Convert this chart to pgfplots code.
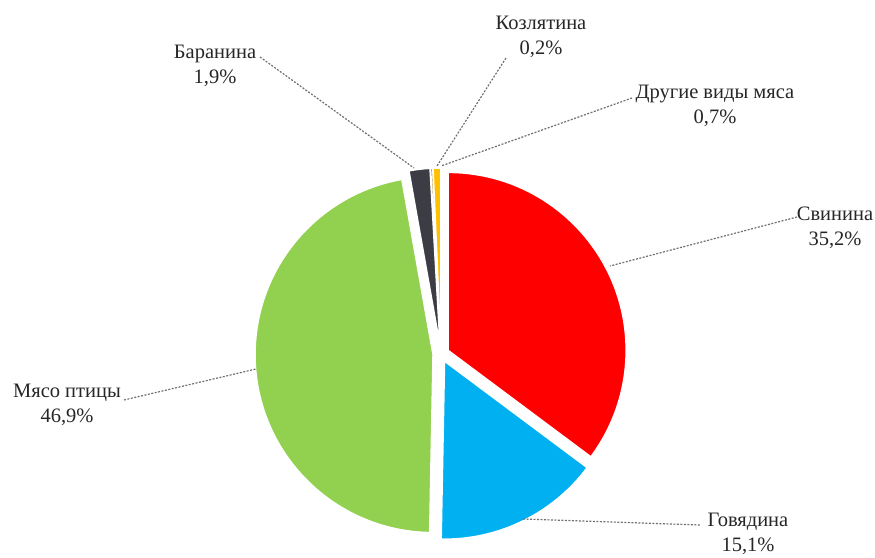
\documentclass[border=0pt]{standalone}
\usepackage{pgfplots}
\pgfplotsset{compat=1.18}
\usepackage{pgfplotstable}
\usepackage{fontspec}
\setmainfont{Liberation Serif}
\newfontfamily\labfont{Liberation Serif}
\usetikzlibrary{calc}

\definecolor{cPork}{HTML}{FF0000}
\definecolor{cBeef}{HTML}{00B0F0}
\definecolor{cPoultry}{HTML}{92D050}
\definecolor{cMutton}{HTML}{3C3C44}
\definecolor{cGoat}{HTML}{B07A10}
\definecolor{cOther}{HTML}{FFC000}
\definecolor{leader}{HTML}{707070}

% share of each kind of meat, clockwise from 12 o'clock
\pgfplotstableread{
value colour
35.2 cPork
15.1 cBeef
46.9 cPoultry
1.9 cMutton
0.2 cGoat
0.7 cOther
}\piedata

\begin{document}
\begin{tikzpicture}
\begin{axis}[name=ax, at={(0,0)}, anchor=south west,
  width=875bp, height=558bp, scale only axis,
  xmin=0, xmax=875, ymin=0, ymax=558, hide axis, clip=false]
\pgfplotstablegetrowsof{\piedata}
\pgfmathtruncatemacro\lastrow{\pgfplotsretval-1}
\def\angacc{90}
\pgfplotsforeachungrouped \i in {0,...,\lastrow}{
  \pgfplotstablegetelem{\i}{value}\of\piedata \let\sliceval\pgfplotsretval
  \pgfplotstablegetelem{\i}{colour}\of\piedata \let\slicecol\pgfplotsretval
  \pgfmathsetmacro\aend{\angacc-3.6*\sliceval}
  \pgfmathsetmacro\amid{(\angacc+\aend)/2}
  \edef\temp{\noexpand\fill[\slicecol, draw=white, line width=1.5bp]
    ($(axis cs:441,204)+(\amid:8bp)$) -- ++(\angacc:178bp)
    arc[start angle=\angacc, end angle=\aend, radius=178bp] -- cycle;}
  \temp
  \global\let\angacc\aend
}

\begin{scope}[leader, line width=1.2bp, dash pattern=on 2bp off 1.5bp]
\draw (axis cs:260,501) -- (axis cs:414,390);
\draw (axis cs:506,500) -- (axis cs:437,392);
\draw (axis cs:632,460) -- (axis cs:441,392);
\draw (axis cs:797,341) -- (axis cs:610,292);
\draw (axis cs:124,158) -- (axis cs:256,189);
\draw (axis cs:523,39) -- (axis cs:700,33);
\end{scope}

\begin{scope}[every node/.style={align=center, text=black!85, inner sep=0pt,
  font=\labfont\fontsize{20.5bp}{25bp}\selectfont}]
\node at (axis cs:215,492) {Баранина\\1,9\%};
\node at (axis cs:541,521) {Козлятина\\0,2\%};
\node at (axis cs:715,452) {Другие виды мяса\\0,7\%};
\node at (axis cs:835,330) {Свинина\\35,2\%};
\node at (axis cs:67,153) {Мясо птицы\\46,9\%};
\node at (axis cs:748,24) {Говядина\\15,1\%};
\end{scope}
\end{axis}
\pgfresetboundingbox
\path (ax.south west) rectangle (ax.north east);
\end{tikzpicture}
\end{document}
